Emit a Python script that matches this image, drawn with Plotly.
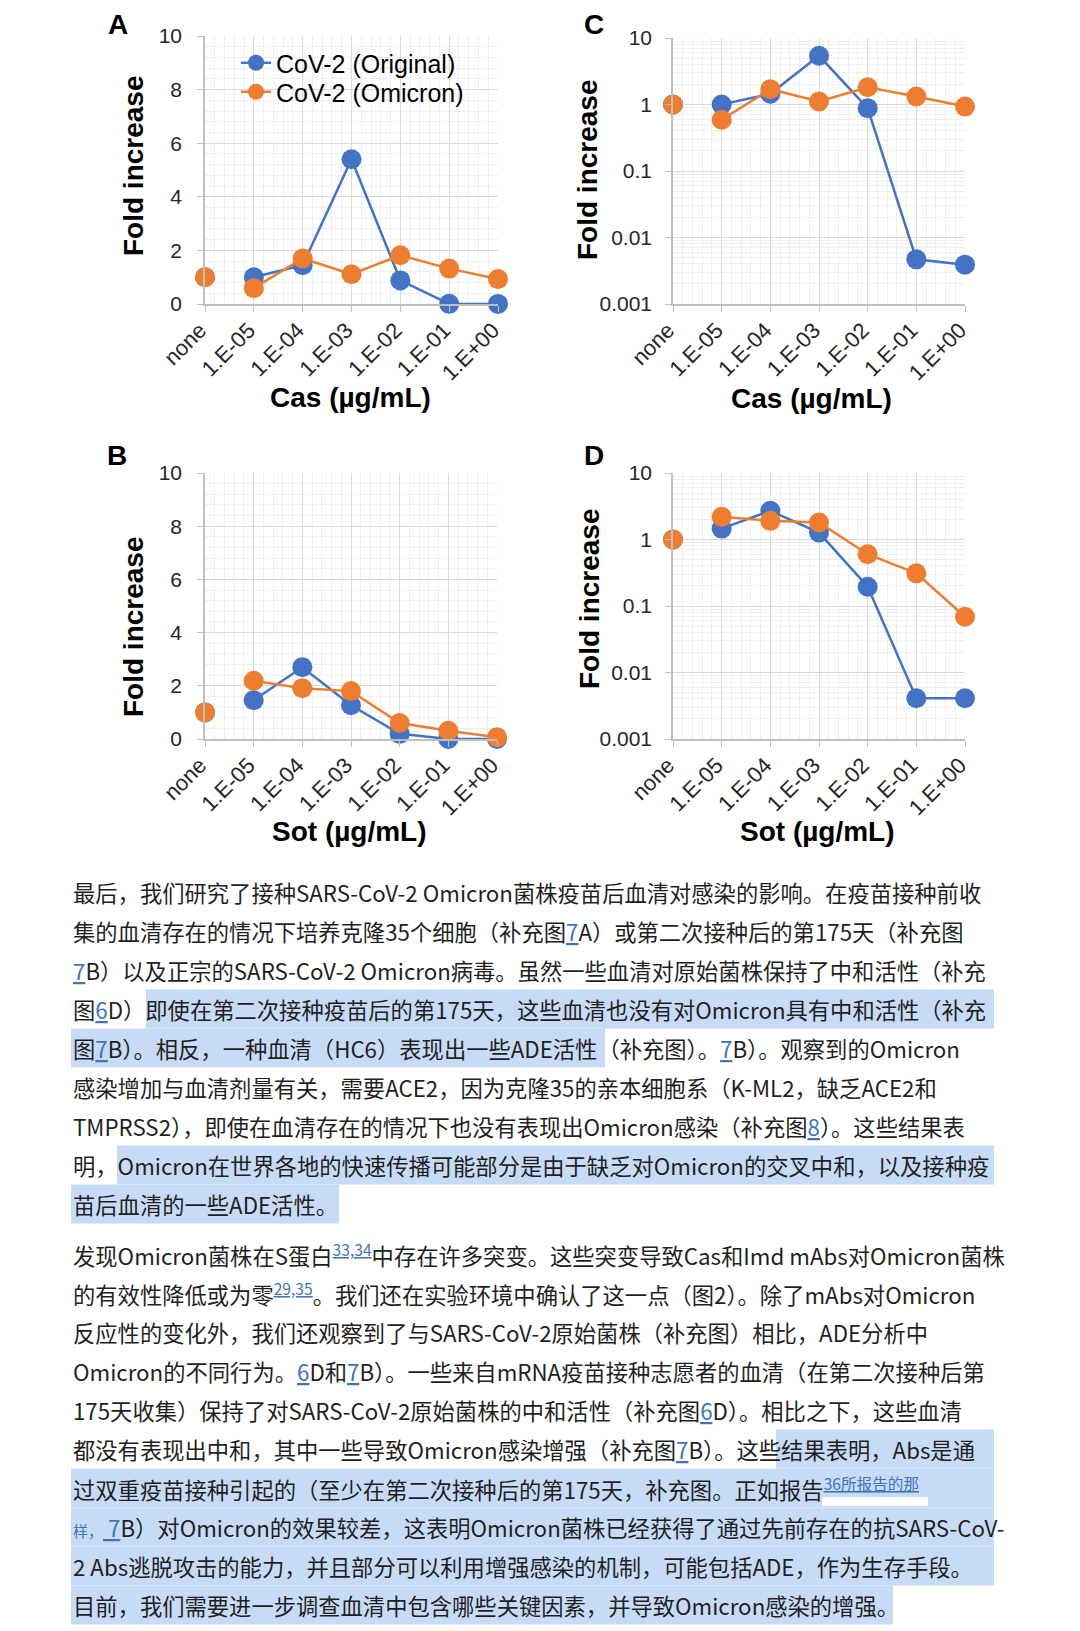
import plotly.graph_objects as go

# ---------------- data ----------------
categories = ["none", "1.E-05", "1.E-04", "1.E-03", "1.E-02", "1.E-01", "1.E+00"]
cas_original = [1.0, 1.0, 1.45, 5.4, 0.88, 0.0047, 0.0039]
cas_omicron = [1.0, 0.59, 1.70, 1.11, 1.82, 1.32, 0.93]
sot_original = [1.0, 1.46, 2.70, 1.27, 0.195, 0.0041, 0.0041]
sot_omicron = [1.0, 2.19, 1.91, 1.80, 0.60, 0.31, 0.069]
series_names = ["CoV-2 (Original)", "CoV-2 (Omicron)"]
linear_tickvals = [0, 2, 4, 6, 8, 10]
log_tickvals = [0.001, 0.01, 0.1, 1, 10]
log_ticktext = ["0.001", "0.01", "0.1", "1", "10"]
panel_letters = ["A", "C", "B", "D"]
x_titles = ["Cas (µg/mL)", "Cas (µg/mL)", "Sot (µg/mL)", "Sot (µg/mL)"]
y_title = "Fold increase"

LINK = "#3f73b6"


def lk(s):
    return f'<span style="color:{LINK};text-decoration:underline">{s}</span>'


def sp(s):
    return f'<sup><span style="color:{LINK};text-decoration:underline">{s}</span></sup>'


para1 = [
    "最后，我们研究了接种SARS-CoV-2 Omicron菌株疫苗后血清对感染的影响。在疫苗接种前收",
    "集的血清存在的情况下培养克隆35个细胞（补充图" + lk("7") + "A）或第二次接种后的第175天（补充图",
    lk("7") + "B）以及正宗的SARS-CoV-2 Omicron病毒。虽然一些血清对原始菌株保持了中和活性（补充",
    "图" + lk("6") + "D）即使在第二次接种疫苗后的第175天，这些血清也没有对Omicron具有中和活性（补充",
    "图" + lk("7") + "B）。相反，一种血清（HC6）表现出一些ADE活性（补充图）。" + lk("7") + "B）。观察到的Omicron",
    "感染增加与血清剂量有关，需要ACE2，因为克隆35的亲本细胞系（K-ML2，缺乏ACE2和",
    "TMPRSS2），即使在血清存在的情况下也没有表现出Omicron感染（补充图" + lk("8") + "）。这些结果表",
    "明，Omicron在世界各地的快速传播可能部分是由于缺乏对Omicron的交叉中和，以及接种疫",
    "苗后血清的一些ADE活性。",
]
para2 = [
    "发现Omicron菌株在S蛋白" + sp("33,34") + "中存在许多突变。这些突变导致Cas和Imd mAbs对Omicron菌株",
    "的有效性降低或为零" + sp("29,35") + "。我们还在实验环境中确认了这一点（图2）。除了mAbs对Omicron",
    "反应性的变化外，我们还观察到了与SARS-CoV-2原始菌株（补充图）相比，ADE分析中",
    "Omicron的不同行为。" + lk("6") + "D和" + lk("7") + "B）。一些来自mRNA疫苗接种志愿者的血清（在第二次接种后第",
    "175天收集）保持了对SARS-CoV-2原始菌株的中和活性（补充图" + lk("6") + "D）。相比之下，这些血清",
    "都没有表现出中和，其中一些导致Omicron感染增强（补充图" + lk("7") + "B）。这些结果表明，Abs是通",
    "过双重疫苗接种引起的（至少在第二次接种后的第175天，补充图。正如报告" + sp("36所报告的那"),
    f'<span style="font-size:15px;color:{LINK}">样，</span>' + lk("&nbsp;") + lk("7") + "B）对Omicron的效果较差，这表明Omicron菌株已经获得了通过先前存在的抗SARS-CoV-",
    "2 Abs逃脱攻击的能力，并且部分可以利用增强感染的机制，可能包括ADE，作为生存手段。",
    "目前，我们需要进一步调查血清中包含哪些关键因素，并导致Omicron感染的增强。",
]

# ---------------- layout helpers ----------------
W, H = 1080, 1631
OFF = 8  # page body margin of the html page
BLUE = "#4472C4"
ORANGE = "#ED7D31"
AX_FONT = "Liberation Sans, Arial, sans-serif"
CJK_FONT = "Noto Sans CJK SC, sans-serif"


def px_x(x):
    return (x - OFF) / W


def px_y(y):
    return 1 - (y - OFF) / H


panels = [
    dict(orig=cas_original, omic=cas_omicron, log=False, box=(205, 36, 498, 304),
         letter=(118, None), ytitle=(133, 166), xtitle=(350, 397)),
    dict(orig=cas_original, omic=cas_omicron, log=True, box=(673, 38, 965, 304),
         letter=(594, None), ytitle=(588, 170), xtitle=(811, 398)),
    dict(orig=sot_original, omic=sot_omicron, log=False, box=(205, 473, 497, 739),
         letter=(117, 455), ytitle=(133, 627), xtitle=(349, 832)),
    dict(orig=sot_original, omic=sot_omicron, log=True, box=(673, 473, 965, 739),
         letter=(594, 455), ytitle=(589, 599), xtitle=(817, 832)),
]

fig = go.Figure()
annotations = []
shapes = []
xidx = list(range(len(categories)))

log_minor = []
for e in range(-3, 1):
    for m in range(2, 10):
        log_minor.append(m * 10 ** e)

legend_ids = ["legend", "legend2"]

for i, p in enumerate(panels):
    n = "" if i == 0 else str(i + 1)
    xa, ya = "x" + n, "y" + n
    l, t, r, b = p["box"]
    for k, (vals, color) in enumerate(((p["orig"], BLUE), (p["omic"], ORANGE))):
        name = series_names[k]
        fig.add_trace(go.Scatter(
            x=xidx[1:], y=vals[1:], mode="lines+markers", name=name,
            line=dict(color=color, width=2.5), marker=dict(color=color, size=20),
            cliponaxis=False, showlegend=(i == 0), legend=legend_ids[k],
            xaxis=xa, yaxis=ya))
        fig.add_trace(go.Scatter(
            x=xidx[:1], y=vals[:1], mode="markers", name=name,
            marker=dict(color=color, size=20), cliponaxis=False, showlegend=False,
            xaxis=xa, yaxis=ya))

    xkey = "xaxis" + n
    ykey = "yaxis" + n
    xaxis = dict(
        domain=[px_x(l), px_x(r)], anchor=ya, range=[0, 6],
        tickmode="array", tickvals=xidx, ticktext=categories, tickangle=-45,
        tickfont=dict(family=AX_FONT, size=22, color="#262626"),
        showgrid=True, gridcolor="#d9d9d9", gridwidth=1,
        showline=True, linecolor="#bfbfbf", linewidth=1.5,
        ticks="outside", ticklen=6, tickcolor="#bfbfbf",
        ticklabelstandoff=-3, ticklabelshift=-5, zeroline=False, automargin=False,
        minor=dict(dtick=0.2, showgrid=True, gridcolor="#efefef", ticks=""),
        fixedrange=True,
    )
    if p["log"]:
        yaxis = dict(
            domain=[px_y(b), px_y(t)], anchor=xa, type="log", range=[-3, 1],
            tickmode="array", tickvals=log_tickvals, ticktext=log_ticktext,
            minor=dict(tickvals=log_minor, showgrid=True, gridcolor="#efefef", ticks=""),
            ticklabelstandoff=9,
        )
    else:
        yaxis = dict(
            domain=[px_y(b), px_y(t)], anchor=xa, range=[0, 10],
            tickmode="array", tickvals=linear_tickvals,
            minor=dict(dtick=0.4, showgrid=True, gridcolor="#efefef", ticks=""),
            ticklabelstandoff=11,
        )
    yaxis.update(
        tickfont=dict(family=AX_FONT, size=21, color="#262626"),
        showgrid=True, gridcolor="#d9d9d9", gridwidth=1,
        showline=True, linecolor="#bfbfbf", linewidth=1.5,
        ticks="outside", ticklen=6, tickcolor="#bfbfbf", zeroline=False,
        automargin=False, fixedrange=True,
    )
    fig.update_layout(**{xkey: xaxis, ykey: yaxis})

    lx, ly = p["letter"]
    if ly is None:
        annotations.append(dict(text=f"<b>{panel_letters[i]}</b>", x=px_x(lx), y=1,
                                xref="paper", yref="paper", showarrow=False, borderpad=0,
                                font=dict(family=AX_FONT, size=28, color="#000"),
                                xanchor="center", yanchor="top"))
    else:
        annotations.append(dict(text=f"<b>{panel_letters[i]}</b>", x=px_x(lx), y=px_y(ly),
                                xref="paper", yref="paper", showarrow=False,
                                font=dict(family=AX_FONT, size=28, color="#000"),
                                xanchor="center", yanchor="middle"))
    tx, ty = p["ytitle"]
    annotations.append(dict(text=f"<b>{y_title}</b>", x=px_x(tx), y=px_y(ty),
                            xref="paper", yref="paper", showarrow=False, textangle=-90,
                            font=dict(family=AX_FONT, size=28, color="#000"),
                            xanchor="center", yanchor="middle"))
    tx, ty = p["xtitle"]
    annotations.append(dict(text=f"<b>{x_titles[i]}</b>", x=px_x(tx), y=px_y(ty),
                            xref="paper", yref="paper", showarrow=False,
                            font=dict(family=AX_FONT, size=28, color="#000"),
                            xanchor="center", yanchor="middle"))

# ---------------- body text ----------------
TEXT_X = 71
LINE_H = 39
p1_y = [892 + LINE_H * k for k in range(len(para1))]
p2_y = [1254 + LINE_H * k for k in range(len(para2))]

HL = "#c7dbf6"
bands = [
    (p1_y[3], 146, 994), (p1_y[4], 71, 605),
    (p1_y[7], 117, 994), (p1_y[8], 71, 339),
    (p2_y[5], 776, 994), (p2_y[6], 71, 994), (p2_y[7], 71, 994),
    (p2_y[8], 71, 994), (p2_y[9], 71, 893),
]
for yc, x0, x1 in bands:
    shapes.append(dict(type="rect", xref="paper", yref="paper",
                       x0=px_x(x0), x1=px_x(x1), y0=px_y(yc + LINE_H / 2), y1=px_y(yc - LINE_H / 2),
                       fillcolor=HL, line=dict(width=0), layer="below"))
shapes.append(dict(type="rect", xref="paper", yref="paper",
                   x0=px_x(822), x1=px_x(928), y0=px_y(1506), y1=px_y(1497),
                   fillcolor="white", line=dict(width=0), layer="below"))

for lines, ys in ((para1, p1_y), (para2, p2_y)):
    for txt, yc in zip(lines, ys):
        annotations.append(dict(text=txt, x=px_x(TEXT_X), y=px_y(yc), xref="paper", yref="paper",
                                showarrow=False, xanchor="left", yanchor="middle", align="left",
                                font=dict(family=CJK_FONT, size=22.3, color="#1f1f1f")))

legend_style = dict(xanchor="left", yanchor="top", bgcolor="rgba(0,0,0,0)",
                    font=dict(family=AX_FONT, size=25, color="#000"), itemwidth=30)

fig.update_layout(
    width=W, height=H, margin=dict(l=0, r=0, t=0, b=0, autoexpand=False),
    paper_bgcolor="white", plot_bgcolor="white",
    annotations=annotations, shapes=shapes,
    legend=dict(x=px_x(236), y=px_y(40), **legend_style),
    legend2=dict(x=px_x(236), y=px_y(69), **legend_style),
    showlegend=True,
)

fig.write_html("out.html")
